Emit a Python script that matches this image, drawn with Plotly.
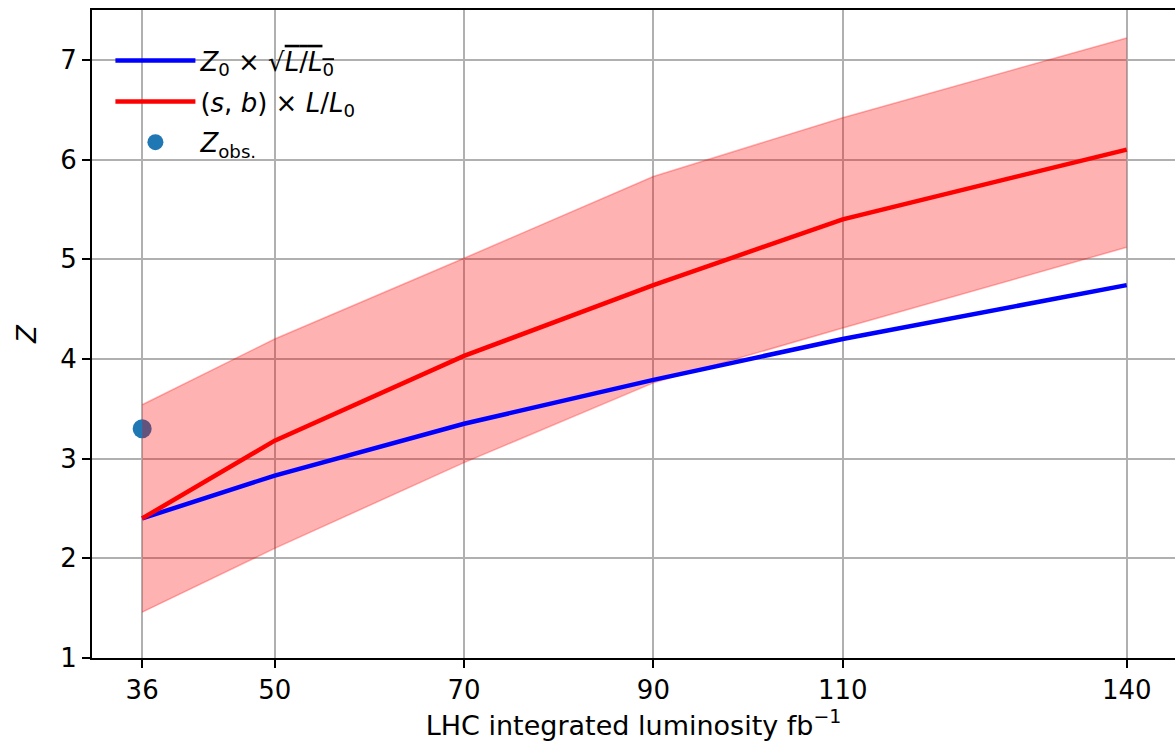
import plotly.graph_objects as go

lumi = [36, 50, 70, 90, 110, 140]
z_sqrt = [2.40, 2.83, 3.35, 3.79, 4.20, 4.74]
z_sb = [2.40, 3.18, 4.03, 4.74, 5.40, 6.10]
z_sb_upper = [3.54, 4.20, 5.01, 5.83, 6.42, 7.22]
z_sb_lower = [1.46, 2.10, 2.96, 3.76, 4.31, 5.12]
obs_x = [36]
obs_z = [3.30]
x_ticks = [36, 50, 70, 90, 110, 140]
y_ticks = [1, 2, 3, 4, 5, 6, 7]

FONT = "DejaVu Sans"
FS = 26
fig = go.Figure()

fig.add_trace(go.Scatter(
    x=obs_x, y=obs_z, mode="markers",
    marker=dict(color="#1f77b4", size=19),
    name="<i>Z</i><sub>obs.</sub>", legendrank=3, legendgroup="g3"))

fig.add_trace(go.Scatter(
    x=lumi, y=z_sb_lower, mode="lines",
    line=dict(color="rgba(255,0,0,0.3)", width=1.5),
    showlegend=False, hoverinfo="skip"))
fig.add_trace(go.Scatter(
    x=lumi, y=z_sb_upper, mode="lines", fill="tonexty",
    fillcolor="rgba(255,0,0,0.3)",
    line=dict(color="rgba(255,0,0,0.3)", width=1.5),
    showlegend=False, hoverinfo="skip"))

fig.add_trace(go.Scatter(
    x=lumi, y=z_sqrt, mode="lines",
    line=dict(color="#0000ff", width=4.5),
    name="<i>Z</i><sub>0</sub> × √<span style='text-decoration:overline'><i>L</i>/<i>L</i><sub>0</sub></span>",
    legendrank=1, legendgroup="g1"))
fig.add_trace(go.Scatter(
    x=lumi, y=z_sb, mode="lines",
    line=dict(color="#ff0000", width=4.5),
    name="(<i>s</i>, <i>b</i>) × <i>L</i>/<i>L</i><sub>0</sub>",
    legendrank=2, legendgroup="g2"))

fig.update_layout(
    width=1175, height=748,
    margin=dict(l=92, r=0, t=10, b=90),
    paper_bgcolor="white", plot_bgcolor="white",
    font=dict(family=FONT, size=FS, color="black"),
    legend=dict(x=0.017, y=0.958, xanchor="left", yanchor="top",
                bgcolor="rgba(0,0,0,0)", font=dict(size=FS),
                itemwidth=80, tracegroupgap=4, traceorder="grouped"),
    showlegend=True,
)
fig.update_xaxes(
    range=[30.7, 145.1], tickvals=x_ticks, ticktext=[str(v) for v in x_ticks],
    showgrid=True, gridcolor="#b0b0b0", gridwidth=1.6,
    showline=True, linecolor="black", linewidth=2, mirror=True,
    ticks="outside", ticklen=8, tickwidth=2, tickcolor="black",
    zeroline=False, tickfont=dict(size=FS),
    title=dict(text="LHC integrated luminosity fb<sup>−1</sup>", standoff=8,
               font=dict(size=FS + 1)),
)
fig.update_yaxes(
    range=[1, 7.5], tickvals=y_ticks,
    showgrid=True, gridcolor="#b0b0b0", gridwidth=1.6,
    showline=True, linecolor="black", linewidth=2,
    ticks="outside", ticklen=8, tickwidth=2, tickcolor="black",
    zeroline=False, tickfont=dict(size=FS),
    title=dict(text="<i>Z</i>", standoff=16, font=dict(size=FS)),
)

fig.write_html("out.html")
